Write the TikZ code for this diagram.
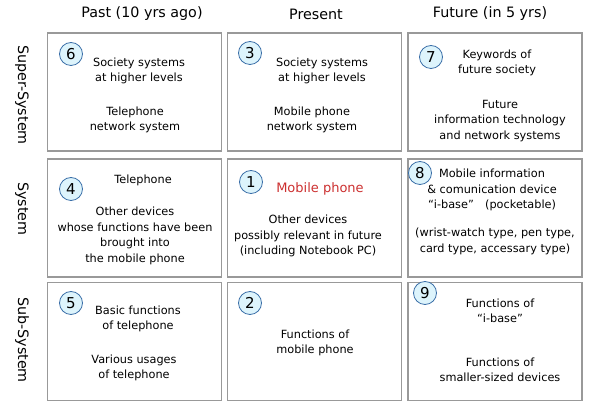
\documentclass[tikz,border=0pt]{standalone}
\usepackage{fontspec}
\setmainfont{DejaVu Sans}
\usepackage{xcolor}
\definecolor{cellgray}{HTML}{999999}
\definecolor{numfill}{HTML}{DDF4FC}
\definecolor{numline}{HTML}{3B6FA8}
\definecolor{phonered}{HTML}{CC3030}

\begin{document}
\begin{tikzpicture}[x=1pt,y=-1pt]
\tikzset{
  cell/.style={draw=cellgray,line width=1.5pt,minimum width=174pt,minimum height=118pt},
  num/.style={circle,draw=numline,fill=numfill,line width=0.8pt,inner sep=0pt,
    minimum size=23pt,font=\fontsize{15}{15}\selectfont},
  txt/.style={align=center,font=\fontsize{11.3}{15.5}\selectfont},
  head/.style={font=\fontsize{14.3}{14}\selectfont},
}
\useasboundingbox (0,0) rectangle (595,419);
% grid of cells
\foreach \name/\cx in {past/134.5,present/314.5,future/495}
  \foreach \lvl/\cy in {super/92,sys/218,sub/341.5}
    \node[cell] (\name-\lvl) at (\cx,\cy) {};
% column and row titles
\node[head] (h-past) at (142,14) {Past (10 yrs ago)};
\node[head] (h-present) at (316,14) {Present};
\node[head] (h-future) at (490,14) {Future (in 5 yrs)};
\node[head,rotate=-90] (r-super) at (22,95) {Super-System};
\node[head,rotate=-90] (r-sys) at (22,209) {System};
\node[head,rotate=-90] (r-sub) at (22,340) {Sub-System};
% numbered marks
\foreach \n/\px/\py in {6/71/54,3/250/53,7/431/57,4/71/189,1/251/182,8/420/173,5/71/303,2/250/303,9/425/293}
  \node[num] (n\n) at (\px,\py) {\n};
% super-system
\node[txt] (t6a) at (139,71) {Society systems\\at higher levels};
\node[txt] (t6b) at (135,120) {Telephone\\network system};
\node[txt] (t3a) at (322,71) {Society systems\\at higher levels};
\node[txt] (t3b) at (312,120) {Mobile phone\\network system};
\node[txt] (t7a) at (497,63) {Keywords of\\future society};
\node[txt] (t7b) at (500,121) {Future\\information technology\\and network systems};
% system
\node[txt] (t4a) at (143,180) {Telephone};
\node[txt] (t4b) at (135,236) {Other devices\\whose functions have been\\brought into\\the mobile phone};
\node[txt,text=phonered,font=\fontsize{13}{15}\selectfont] (t1a) at (320,189) {Mobile phone};
\node[txt] (t1b) at (308,236) {Other devices\\possibly relevant in future\\(including Notebook PC)};
\node[txt] (t8a) at (492,190) {Mobile information\\\& comunication device\\“i-base”\quad(pocketable)};
\node[txt] (t8b) at (495,241.5) {(wrist-watch type, pen type,\\card type, accessary type)};
% sub-system
\node[txt] (t5a) at (138,319) {Basic functions\\of telephone};
\node[txt] (t5b) at (134,368) {Various usages\\of telephone};
\node[txt] (t2a) at (315,343) {Functions of\\mobile phone};
\node[txt] (t9a) at (500,311) {Functions of\\“i-base”};
\node[txt] (t9b) at (500,370) {Functions of\\smaller-sized devices};
\end{tikzpicture}
\end{document}
